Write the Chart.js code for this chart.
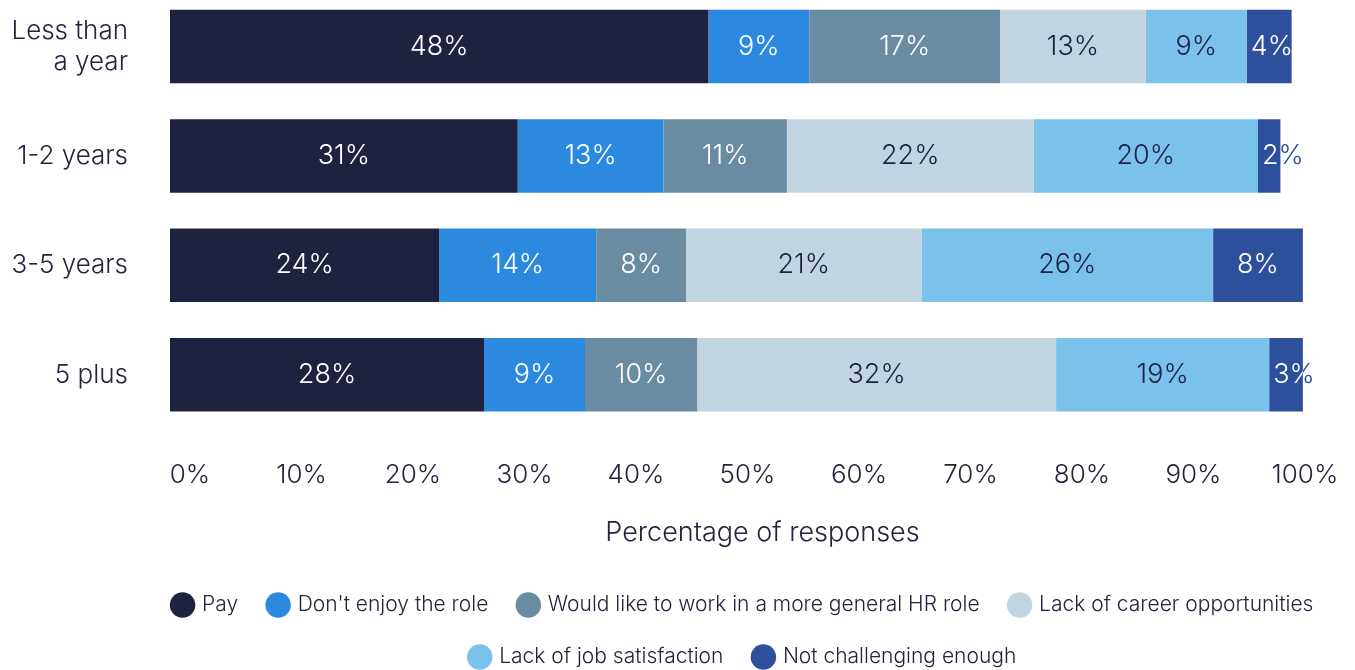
<!DOCTYPE html>
<html>
<head>
<meta charset="utf-8">
<script src="https://cdn.jsdelivr.net/npm/chart.js@4.4.1/dist/chart.umd.min.js"></script>
<style>
  html, body { margin: 0; padding: 0; background: #fff; }
  #wrap { width: 1355px; height: 670px; }
</style>
</head>
<body>
<div id="wrap"><canvas id="chart" width="1355" height="670"></canvas></div>
<script>
// categories (tenure) and reasons
const categories = [['Less than', 'a year'], '1-2 years', '3-5 years', '5 plus'];
const seriesNames = ['Pay', "Don't enjoy the role", 'Would like to work in a more general HR role',
  'Lack of career opportunities', 'Lack of job satisfaction', 'Not challenging enough'];

const pay = [48, 31, 24, 28];
const dontEnjoy = [9, 13, 14, 9];
const generalHr = [17, 11, 8, 10];
const careerOpps = [13, 22, 21, 32];
const jobSatisfaction = [9, 20, 26, 19];
const notChallenging = [4, 2, 8, 3];

const tickValues = [0, 10, 20, 30, 40, 50, 60, 70, 80, 90, 100];
const tickLabels = ['0%', '10%', '20%', '30%', '40%', '50%', '60%', '70%', '80%', '90%', '100%'];

const colors = ['#1f2140', '#2b8ae0', '#6a8ca3', '#c0d5e0', '#7ac2ec', '#2d4f9c'];
const labelColors = ['#ffffff', '#ffffff', '#ffffff', '#1f2140', '#1f2140', '#ffffff'];
const textColor = '#23253f';
const FONT = 'Inter, "Liberation Sans", sans-serif';

const allSeries = [pay, dontEnjoy, generalHr, careerOpps, jobSatisfaction, notChallenging];

// value labels inside the bars
const barLabels = {
  id: 'barLabels',
  afterDatasetsDraw(chart) {
    const ctx = chart.ctx;
    ctx.save();
    ctx.font = '300 27px ' + FONT;
    ctx.textBaseline = 'middle';
    chart.data.datasets.forEach((ds, i) => {
      chart.getDatasetMeta(i).data.forEach((bar, j) => {
        const text = ds.data[j] + '%';
        const left = Math.min(bar.base, bar.x);
        const right = Math.max(bar.base, bar.x);
        const w = ctx.measureText(text).width;
        let tx = (left + right) / 2;
        ctx.textAlign = 'center';
        if (w + 8 > right - left) {
          tx = left + 4;
          ctx.textAlign = 'left';
        }
        // part outside the bar takes bar colour
        ctx.fillStyle = ds.backgroundColor;
        ctx.fillText(text, tx, bar.y);
        ctx.save();
        ctx.beginPath();
        ctx.rect(left, bar.y - bar.height / 2, right - left, bar.height);
        ctx.clip();
        ctx.fillStyle = labelColors[i];
        ctx.fillText(text, tx, bar.y);
        ctx.restore();
      });
    });
    ctx.restore();
  }
};

// move the legend a bit right / down like in the original
const legendShift = {
  id: 'legendShift',
  afterLayout(chart) {
    const lg = chart.legend;
    lg.left += 66; lg.right += 66;
    lg.top += 7.5; lg.bottom += 7.5;
  }
};

const ctx = document.getElementById('chart').getContext('2d');
const chart = new Chart(ctx, {
  type: 'bar',
  data: {
    labels: categories,
    datasets: allSeries.map((d, i) => ({
      label: seriesNames[i],
      data: d,
      backgroundColor: colors[i],
      borderWidth: 0,
      barPercentage: 0.672,
      categoryPercentage: 1,
      clip: false
    }))
  },
  options: {
    indexAxis: 'y',
    responsive: false,
    animation: false,
    layout: { padding: { top: 46.5, left: 0, right: 0, bottom: 0 } },
    plugins: {
      tooltip: { enabled: false },
      legend: {
        position: 'bottom',
        labels: {
          usePointStyle: true,
          pointStyle: 'circle',
          boxWidth: 18,
          boxHeight: 18,
          padding: 31,
          color: textColor,
          font: { family: FONT, size: 21, weight: '300' }
        }
      }
    },
    scales: {
      x: {
        display: false,
        stacked: true,
        min: 0,
        max: 105.65
      },
      x2: {
        type: 'linear',
        position: 'bottom',
        min: -1.794,
        max: 104.49,
        grid: { display: false, drawTicks: false },
        border: { display: false },
        afterBuildTicks: (scale) => { scale.ticks = tickValues.map(v => ({ value: v })); },
        afterFit: (scale) => {
          scale.height = 181.3;
          scale.paddingLeft = 0;
          scale.paddingRight = 0;
        },
        ticks: {
          padding: 84.7,
          color: textColor,
          font: { family: FONT, size: 26, weight: '300' },
          callback: (v, i) => tickLabels[i]
        },
        title: {
          display: true,
          text: 'Percentage of responses',
          color: textColor,
          padding: { top: 0, bottom: 6.8 },
          font: { family: FONT, size: 27, weight: '300' }
        }
      },
      y: {
        stacked: true,
        offset: false,
        grid: { display: false, drawTicks: false },
        border: { display: false },
        afterFit: (scale) => {
          scale.width = 170;
          scale.paddingTop = 0;
          scale.paddingBottom = 0;
        },
        ticks: {
          padding: 42,
          color: textColor,
          font: { family: FONT, size: 26, weight: '300' }
        }
      }
    }
  },
  plugins: [barLabels, legendShift]
});
</script>
</body>
</html>
